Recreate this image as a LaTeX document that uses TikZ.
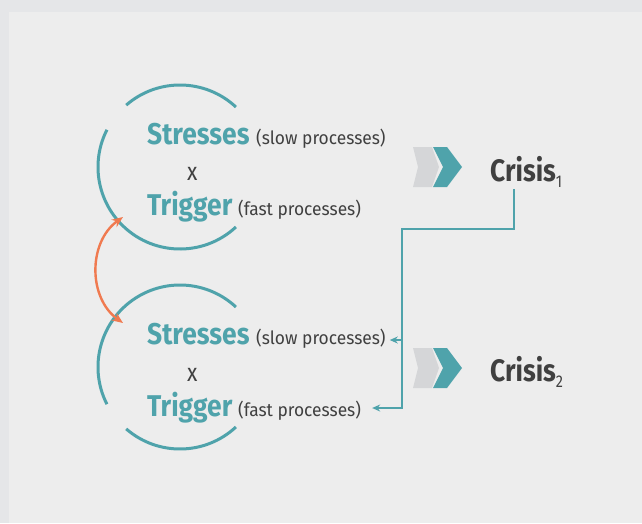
\documentclass[tikz,border=0pt]{standalone}
\usepackage{fontspec}
\setmainfont{Fira Sans}[FakeStretch=0.85]
\newfontfamily\factorfont{Fira Sans}[FakeStretch=0.88]
\newfontfamily\notefont{Fira Sans}[FakeStretch=0.95]
\usepackage{tikz}
\usetikzlibrary{positioning,calc,arrows.meta}
\usepackage{xcolor}
\definecolor{teal1}{HTML}{4FA3AB}
\definecolor{chevgray}{HTML}{D5D6D8}
\definecolor{orange1}{HTML}{F07A50}
\definecolor{textgray}{HTML}{404040}
\definecolor{framegray}{HTML}{E5E6E8}
\definecolor{panelgray}{HTML}{EDEDED}
\newcommand{\crisisno}[1]{\raisebox{-6pt}{\fontsize{17}{17}\selectfont\mdseries #1}}

\begin{document}
\begin{tikzpicture}[
    x=1pt, y=-1pt,
    every node/.style={inner sep=0pt, anchor=base west},
    factor/.style={font=\factorfont\fontsize{30}{30}\selectfont\bfseries, text=teal1},
    note/.style={font=\notefont\fontsize{18.3}{18.3}\selectfont, text=textgray},
    times/.style={font=\fontsize{25}{25}\selectfont, text=textgray},
    crisis/.style={font=\fontsize{31}{31}\selectfont\bfseries, text=textgray},
    ring/.style={draw=teal1, line width=3pt},
    swing/.style={draw=orange1, line width=2.4pt, {Stealth[length=11pt,width=9pt]}-{Stealth[length=11pt,width=9pt]}},
    link/.style={draw=teal1, line width=2.4pt, -{Stealth[length=8pt,width=7pt]}}
]
% background
\fill[framegray] (0,0) rectangle (642,523);
\fill[panelgray] (9,12) rectangle (642,523);
\useasboundingbox (0,0) rectangle (642,523);

% upper loop
\draw[ring] (180,167) ++(47:82) arc[start angle=47, end angle=207, radius=82];
\draw[ring] (180,167) ++(229:82) arc[start angle=229, end angle=313, radius=82];
\node[factor] (stress1) at (147,144) {Stresses};
\node[note] (slow1) at (256,144) {(slow processes)};
\node[times] (times1) at (187,180) {x};
\node[factor] (trig1) at (147,215) {Trigger};
\node[note] (fast1) at (238,215) {(fast processes)};

% lower loop
\draw[ring] (180,367) ++(47:82) arc[start angle=47, end angle=131, radius=82];
\draw[ring] (180,367) ++(153:82) arc[start angle=153, end angle=313, radius=82];
\node[factor] (stress2) at (147,344) {Stresses};
\node[note] (slow2) at (256,344) {(slow processes)};
\node[times] (times2) at (187,381) {x};
\node[factor] (trig2) at (147,416) {Trigger};
\node[note] (fast2) at (238,416) {(fast processes)};

% chevrons
\foreach \y/\n in {167/1, 368/2} {
    \fill[chevgray] (413,\y-20) -- (432,\y-20) -- (439,\y) -- (432,\y+20)
        -- (413,\y+20) -- (418,\y) -- cycle;
    \fill[teal1] (433,\y-20) -- (447,\y-20) -- (462,\y) -- (447,\y+20)
        -- (433,\y+20) -- (443,\y) -- cycle;
}

% crises
\node[crisis] (crisis1) at (490,181) {Crisis\crisisno{1}};
\node[crisis] (crisis2) at (490,381) {Crisis\crisisno{2}};

% feedback between the loops
\coordinate (gap1) at (123,217);
\coordinate (gap2) at (123,323);
\draw[swing] (gap1) .. controls (88,242) and (88,298) .. (gap2);

% crisis 1 feeds the next loop
\coordinate (drop) at (514,189);
\coordinate (fork) at (402,340);
\draw[link] (drop) |- (402,229) |- ([xshift=11pt]fast2.east |- 0,408);
\draw[link] (fork) -- ([xshift=4pt]slow2.east |- 0,340);
\end{tikzpicture}
\end{document}
